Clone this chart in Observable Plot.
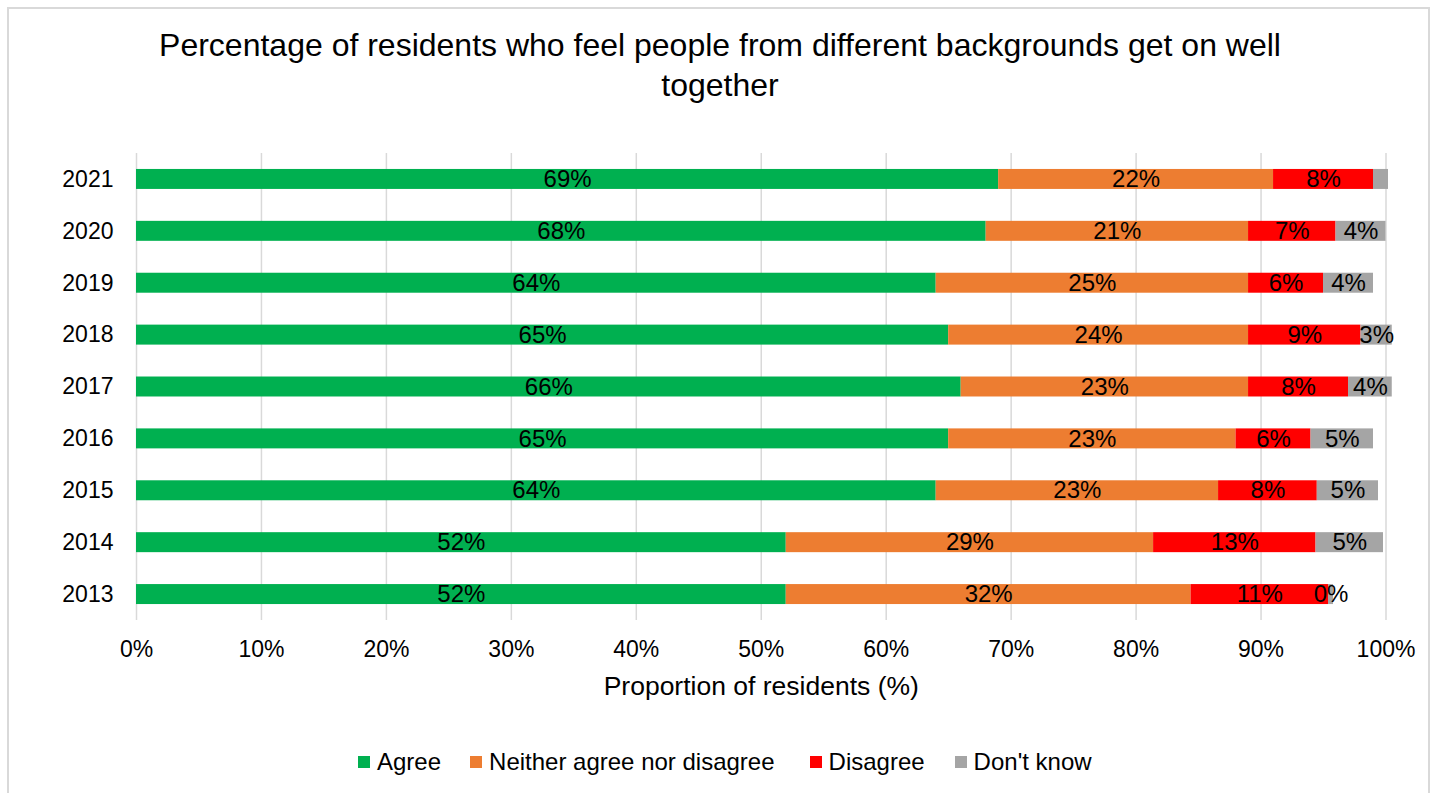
<!DOCTYPE html>
<html>
<head>
<meta charset="utf-8">
<script src="https://cdn.jsdelivr.net/npm/d3@7"></script>
<script src="https://cdn.jsdelivr.net/npm/@observablehq/plot@0.6"></script>
<style>
  html, body { margin: 0; padding: 0; background: #fff; }
  body { width: 1438px; height: 793px; position: relative; overflow: hidden;
         font-family: "Liberation Sans", Arial, sans-serif; color: #000; }
  #frame { position: absolute; left: 7px; top: 7px; width: 1423px; height: 800px;
           border: 2px solid #d9d9d9; box-sizing: border-box; }
  #title { position: absolute; left: 0; top: 25px; width: 1440px; text-align: center;
           font-size: 32px; line-height: 40px; }
  #chart { position: absolute; left: 0; top: 110px; }
  #legend { position: absolute; left: 358px; top: 748px; display: flex; align-items: center;
            font-size: 24px; line-height: 28px; }
  .item { display: flex; align-items: center; }
  .sw { width: 12px; height: 12px; margin-right: 7px; }
</style>
</head>
<body>
<div id="frame"></div>
<div id="title">Percentage of residents who feel people from different backgrounds get on well<br>together</div>
<div id="chart"></div>
<div id="legend"></div>
<script>
const years = ["2021", "2020", "2019", "2018", "2017", "2016", "2015", "2014", "2013"];
const categories = ["Agree", "Neither agree nor disagree", "Disagree", "Don't know"];
const agree    = [69, 68, 64, 65, 66, 65, 64, 52, 52];
const neither  = [22, 21, 25, 24, 23, 23, 22.6, 29.4, 32.4];
const disagree = [8, 7, 6, 9, 8, 6, 7.9, 13, 11];
const dontKnow = [1.2, 4, 4, 2.5, 3.5, 5, 4.9, 5.4, 0.4];
const colors = ["#00b050", "#ed7d31", "#ff0000", "#a5a5a5"];
const xTicks = [0, 10, 20, 30, 40, 50, 60, 70, 80, 90, 100];
const xTitle = "Proportion of residents (%)";
const unlabelled = ["2021|Don't know"];

const series = [agree, neither, disagree, dontKnow];
const data = [];
years.forEach((year, i) => {
  categories.forEach((cat, j) => {
    data.push({year, cat, value: series[j][i]});
  });
});

const fontFamily = '"Liberation Sans", Arial, sans-serif';
const pct = d => d + "%";

const chart = Plot.plot({
  width: 1438,
  height: 595,
  marginTop: 43,
  marginBottom: 85,
  marginLeft: 136,
  marginRight: 52.5,
  style: {fontFamily, fontSize: "23px", color: "#000", background: "transparent", overflow: "visible"},
  x: {domain: [0, 100], ticks: xTicks},
  y: {domain: years, paddingInner: 0.615, paddingOuter: 0.3075, round: false, label: null},
  color: {domain: categories, range: colors},
  marks: [
    Plot.gridX(xTicks, {stroke: "#d9d9d9", strokeOpacity: 1, strokeWidth: 1.5}),
    Plot.barX(data, {x: "value", y: "year", fill: "cat"}),
    Plot.text(data, Plot.stackX({
      x: "value", y: "year", z: "cat",
      text: d => unlabelled.includes(d.year + "|" + d.cat) ? null : Math.round(d.value) + "%",
      fill: "#000", fontSize: 24
    })),
    Plot.axisX({ticks: xTicks, tickSize: 0, tickPadding: 20, tickFormat: pct, label: null, fontSize: 23}),
    Plot.text([xTitle], {frameAnchor: "bottom", dy: 74, text: d => d, fontSize: 26.5, fill: "#000"}),
    Plot.axisY({tickSize: 0, tickPadding: 23, fontSize: 23, label: null})
  ]
});
document.getElementById("chart").appendChild(chart);

const legend = document.getElementById("legend");
const legendGaps = [29, 35, 30, 0];
categories.forEach((cat, j) => {
  const item = document.createElement("div");
  item.className = "item";
  item.style.marginRight = legendGaps[j] + "px";
  const sw = document.createElement("div");
  sw.className = "sw";
  sw.style.background = colors[j];
  const lab = document.createElement("span");
  lab.textContent = cat;
  item.appendChild(sw);
  item.appendChild(lab);
  legend.appendChild(item);
});
</script>
</body>
</html>
